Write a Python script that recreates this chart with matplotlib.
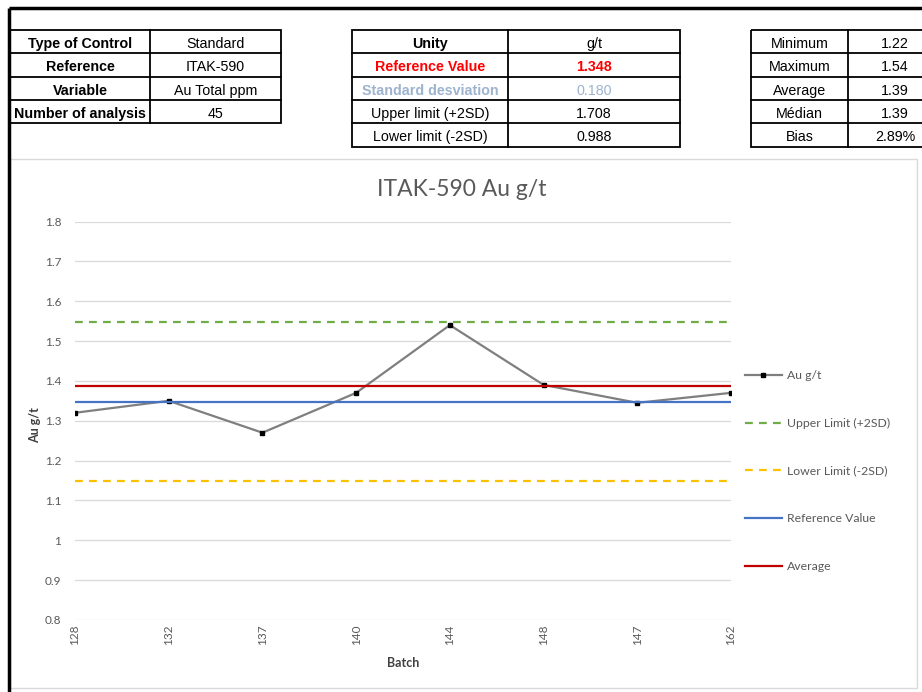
import matplotlib.pyplot as plt
from matplotlib.patches import Rectangle
from matplotlib.ticker import FuncFormatter

# data
batches = ['128', '132', '137', '140', '144', '148', '147', '162']
au = [1.32, 1.35, 1.27, 1.37, 1.54, 1.39, 1.345, 1.37]
ref_value = 1.348
upper_line = 1.548
lower_line = 1.148
average = 1.386

# header tables
t1_left = ['Type of Control', 'Reference', 'Variable', 'Number of analysis']
t1_right = ['Standard', 'ITAK-590', 'Au Total ppm', '45']
t2_left = ['Unity', 'Reference Value', 'Standard desviation',
           'Upper limit (+2SD)', 'Lower limit (-2SD)']
t2_right = ['g/t', '1.348', '0.180', '1.708', '0.988']
t3_left = ['Minimum', 'Maximum', 'Average', 'Médian', 'Bias']
t3_right = ['1.22', '1.54', '1.39', '1.39', '2.89%']

W, H = 922, 692
fig = plt.figure(figsize=(W / 100, H / 100), dpi=100)
fig.patch.set_facecolor('white')

# overlay in pixel coordinates for the tables and frames
bg = fig.add_axes([0, 0, 1, 1])
bg.set_xlim(0, W)
bg.set_ylim(H, 0)
bg.axis('off')

# chart area frame
bg.add_patch(Rectangle((10, 159), 907, 529, facecolor='white',
                       edgecolor='#D9D9D9', lw=1))
# outer black frame
bg.plot([8.5, 8.5], [H, 8], color='black', lw=2.5, solid_capstyle='butt')
bg.plot([8.5, W], [8, 8], color='black', lw=2.5, solid_capstyle='butt')

TFONT = 'Liberation Sans'


def draw_table(x0, xs, x1, y0, rh, left, right, lstyles, rstyles):
    n = len(left)
    bg.add_patch(Rectangle((x0, y0), x1 - x0, rh * n, fill=False,
                           edgecolor='black', lw=1.3))
    bg.plot([xs, xs], [y0, y0 + rh * n], color='black', lw=1.3)
    for i in range(1, n):
        bg.plot([x0, x1], [y0 + rh * i, y0 + rh * i], color='black', lw=1.3)
    for i in range(n):
        yc = y0 + rh * (i + 0.6)
        c, w = lstyles[i]
        bg.text((x0 + xs) / 2, yc, left[i], ha='center', va='center',
                fontsize=10.3, color=c, fontweight=w, family=TFONT)
        c, w = rstyles[i]
        bg.text((xs + x1) / 2, yc, right[i], ha='center', va='center',
                fontsize=10.3, color=c, fontweight=w, family=TFONT)


draw_table(10, 150, 281, 30, 23.3, t1_left, t1_right,
           [('black', 'bold')] * 4, [('black', 'normal')] * 4)
draw_table(352, 508, 680, 30, 23.3, t2_left, t2_right,
           [('black', 'bold'), ('#FF0000', 'bold'), ('#9DB3CE', 'bold'),
            ('black', 'normal'), ('black', 'normal')],
           [('black', 'normal'), ('#FF0000', 'bold'), ('#9DB3CE', 'normal'),
            ('black', 'normal'), ('black', 'normal')])
draw_table(751, 848, 942, 30, 23.3, t3_left, t3_right,
           [('black', 'normal')] * 5, [('black', 'normal')] * 5)

# chart
ax = fig.add_axes([75 / W, 1 - 620 / H, (731 - 75) / W, (620 - 221.5) / H])
ax.set_facecolor('none')
x = list(range(len(batches)))

ax.plot(x, au, color='#7F7F7F', lw=1.6, marker='s', ms=3.5,
        mfc='black', mec='black', label='Au g/t', zorder=3)
ax.plot(x, [upper_line] * len(x), color='#70AD47', lw=1.6,
        dashes=(3.5, 2.8), label='Upper Limit (+2SD)', zorder=3)
ax.plot(x, [lower_line] * len(x), color='#FFC000', lw=1.6,
        dashes=(3.5, 2.8), label='Lower Limit (-2SD)', zorder=3)
ax.plot(x, [ref_value] * len(x), color='#4472C4', lw=1.6,
        label='Reference Value', zorder=3)
ax.plot(x, [average] * len(x), color='#C00000', lw=1.6,
        label='Average', zorder=3)

ax.set_xlim(0, len(x) - 1)
ax.set_ylim(0.8, 1.8)
ax.set_yticks([0.8 + 0.1 * i for i in range(11)])
ax.yaxis.set_major_formatter(FuncFormatter(lambda v, p: f'{round(v, 1):g}'))
ax.set_xticks(x)
ax.set_xticklabels(batches, rotation=90)
ax.grid(axis='y', color='#D9D9D9', lw=0.9)
ax.set_axisbelow(True)
for s in ax.spines.values():
    s.set_visible(False)
ax.tick_params(length=0, labelsize=8.5, labelcolor='#595959')
ax.tick_params(axis='y', pad=10)
ax.tick_params(axis='x', pad=3)
for lab in ax.get_xticklabels() + ax.get_yticklabels():
    lab.set_family('Lato')

ax.set_ylabel('Au g/t', fontsize=9, fontweight='bold', color='#404040',
              family='Lato')
ax.yaxis.set_label_coords(-0.052, 0.49)
ax.set_xlabel('Batch', fontsize=9, fontweight='bold', color='#404040',
              family='Lato')
ax.xaxis.set_label_coords(0.5, -0.093)

fig.text(462 / W, 1 - 190 / H, 'ITAK-590 Au g/t', ha='center', va='center',
         fontsize=16.5, color='#595959', family='Lato')

fig.legend(*ax.get_legend_handles_labels(), loc='center left',
           bbox_to_anchor=(745 / W, 1 - 471 / H), frameon=False,
           borderpad=0, borderaxespad=0, handlelength=3.0,
           handletextpad=0.4, labelspacing=3.0,
           prop={'family': 'Lato', 'size': 8.8}, labelcolor='#595959')

fig.savefig('out.png', dpi=100)
